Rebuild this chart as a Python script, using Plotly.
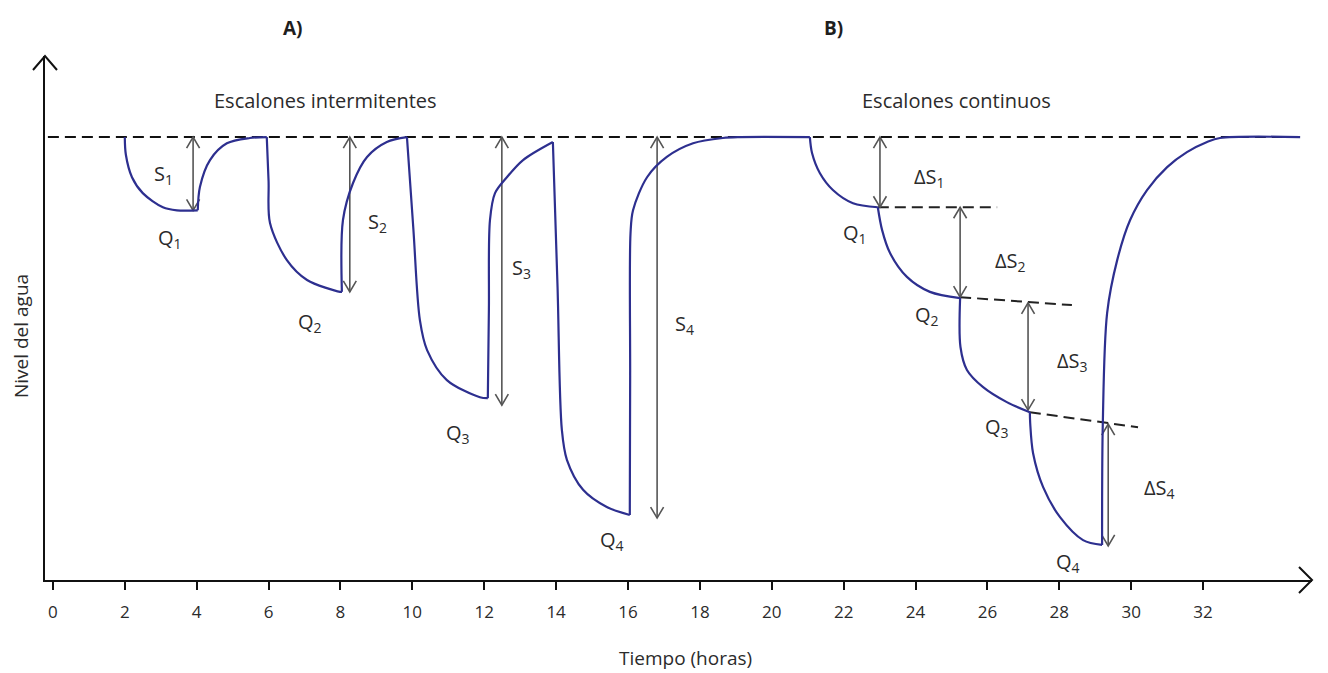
import plotly.graph_objects as go

# ---------------- data ----------------
tick_vals = list(range(0, 33, 2))
tick_text = [str(v) for v in tick_vals]

static_level = 10.0
static_t = [-0.14, 34.70]

# A) Escalones intermitentes : drawdown / recovery pieces (tiempo, nivel)
A1_draw_t = [2.00, 2.03, 2.20, 2.50, 3.06, 3.45, 4.03]
A1_draw_L = [10.0, 9.60, 9.09, 8.73, 8.41, 8.34, 8.34]
A1_rec_t = [4.03, 4.09, 4.37, 4.84, 5.48, 5.95]
A1_rec_L = [8.34, 8.87, 9.48, 9.86, 9.98, 10.0]
A2_draw_t = [5.95, 6.00, 6.04, 6.51, 7.07, 7.99, 8.04]
A2_draw_L = [10.0, 9.00, 8.05, 7.21, 6.76, 6.49, 6.49]
A2_rec_t = [8.04, 8.07, 8.35, 8.74, 9.29, 9.85]
A2_rec_L = [6.49, 8.12, 8.96, 9.55, 9.89, 10.0]
A3_draw_t = [9.85, 10.03, 10.21, 10.41, 10.96, 11.88, 12.10]
A3_draw_L = [10.0, 7.90, 5.85, 5.17, 4.49, 4.10, 4.08]
A3_rec_t = [12.10, 12.13, 12.16, 12.30, 12.63, 13.08, 13.91]
A3_rec_L = [4.08, 6.10, 8.12, 8.73, 9.09, 9.48, 9.89]
A4_draw_t = [13.91, 14.04, 14.16, 14.30, 14.75, 15.41, 16.05]
A4_draw_L = [9.89, 6.60, 3.36, 2.68, 2.00, 1.61, 1.43]
A4_rec_t = [16.05, 16.06, 16.07, 16.14, 16.53, 17.08, 17.81, 18.64, 19.12, 21.06]
A4_rec_L = [1.43, 4.60, 7.82, 8.34, 9.09, 9.55, 9.86, 9.98, 10.0, 10.0]

# B) Escalones continuos
B1_t = [21.06, 21.12, 21.34, 21.70, 22.26, 22.95]
B1_L = [10.0, 9.64, 9.18, 8.80, 8.50, 8.41]
B2_t = [22.95, 23.07, 23.29, 23.76, 24.40, 25.24]
B2_L = [8.41, 7.89, 7.37, 6.83, 6.49, 6.35]
B3_t = [25.24, 25.25, 25.43, 25.88, 26.54, 27.18]
B3_L = [6.35, 5.24, 4.72, 4.33, 3.99, 3.76]
B4_t = [27.18, 27.19, 27.27, 27.55, 28.02, 28.66, 29.19]
B4_L = [3.76, 3.51, 2.83, 2.06, 1.38, 0.86, 0.75]
B_rec_t = [29.19, 29.21, 29.33, 29.61, 29.97, 30.44, 31.00, 31.55, 32.11, 32.47, 34.70]
B_rec_L = [0.75, 3.51, 6.01, 7.21, 8.12, 8.80, 9.32, 9.66, 9.89, 9.98, 10.0]

# dashed step-extension lines in B (start/end)
ext_t0 = [22.95, 25.24, 27.18]
ext_t1 = [26.27, 28.35, 30.19]
ext_L0 = [8.41, 6.37, 3.76]
ext_L1 = [8.41, 6.19, 3.42]

# double-headed drawdown arrows
arrow_t = [3.90, 8.26, 12.49, 16.81, 23.01, 25.24, 27.13, 29.36]
arrow_top = [10.0, 10.0, 10.0, 10.0, 10.0, 8.41, 6.24, 3.49]
arrow_bot = [8.34, 6.49, 3.92, 1.36, 8.41, 6.37, 3.81, 0.73]

# text labels
label_text = ["S<sub>1</sub>", "Q<sub>1</sub>", "S<sub>2</sub>", "Q<sub>2</sub>",
              "S<sub>3</sub>", "Q<sub>3</sub>", "S<sub>4</sub>", "Q<sub>4</sub>",
              "ΔS<sub>1</sub>", "Q<sub>1</sub>", "ΔS<sub>2</sub>", "Q<sub>2</sub>",
              "ΔS<sub>3</sub>", "Q<sub>3</sub>", "ΔS<sub>4</sub>", "Q<sub>4</sub>"]
label_t = [3.09, 3.26, 9.04, 7.15, 13.05, 11.27, 17.58, 15.55,
           24.40, 22.32, 26.63, 24.32, 28.38, 26.27, 30.80, 28.24]
label_L = [9.16, 7.71, 8.07, 5.80, 7.03, 3.27, 5.74, 0.86,
           9.09, 7.82, 7.17, 5.96, 4.90, 3.42, 2.04, 0.36]

section_text = ["Escalones intermitentes", "Escalones continuos"]
section_t = [7.57, 25.13]
section_L = [10.84, 10.84]

# ---------------- layout geometry (screen pixels of the reference) ----------------
OFF = 8                      # default page body margin
SW, SH = 1328, 673
PL, PR, PT, PB = 45, 1312, 56, 580   # plot frame on screen
x_range = [-0.22, 35.03]
y_range = [-0.045, 11.84]
plot_w = PR - PL
plot_h = PB - PT
px_per_t = plot_w / (x_range[1] - x_range[0])
px_per_L = plot_h / (y_range[1] - y_range[0])


def paper_x(sx):
    return (sx - PL) / plot_w


def paper_y(sy):
    return (PB - sy) / plot_h


FONT = "Open Sans"
CURVE = "#2d2f8f"
ARROW = "#555555"
TXT = "#2b2b2b"

fig = go.Figure()

# static water level (dashed)
fig.add_trace(go.Scatter(x=static_t, y=[static_level] * 2, mode="lines",
                         line=dict(color="#111111", width=2, dash="11px,6px"),
                         hoverinfo="skip", showlegend=False))

# B dashed extensions
ex, ey = [], []
for a, b, c, d in zip(ext_t0, ext_t1, ext_L0, ext_L1):
    ex += [a, b, None]
    ey += [c, d, None]
fig.add_trace(go.Scatter(x=ex, y=ey, mode="lines",
                         line=dict(color="#222222", width=2, dash="11px,6px"),
                         hoverinfo="skip", showlegend=False))

# arrows: shafts + chevrons
dx = 6.5 / px_per_t
dy = 11 / px_per_L
sx, sy, hx, hy = [], [], [], []
for t, top, bot in zip(arrow_t, arrow_top, arrow_bot):
    sx += [t, t, None]
    sy += [top, bot, None]
    hx += [t - dx, t, t + dx, None, t - dx, t, t + dx, None]
    hy += [top - dy, top, top - dy, None, bot + dy, bot, bot + dy, None]
fig.add_trace(go.Scatter(x=sx, y=sy, mode="lines", line=dict(color=ARROW, width=1.6),
                         hoverinfo="skip", showlegend=False))
fig.add_trace(go.Scatter(x=hx, y=hy, mode="lines", line=dict(color=ARROW, width=1.6),
                         hoverinfo="skip", showlegend=False))

# water level curves
pieces = [(A1_draw_t, A1_draw_L), (A1_rec_t, A1_rec_L), (A2_draw_t, A2_draw_L),
          (A2_rec_t, A2_rec_L), (A3_draw_t, A3_draw_L), (A3_rec_t, A3_rec_L),
          (A4_draw_t, A4_draw_L), (A4_rec_t, A4_rec_L),
          (B1_t, B1_L), (B2_t, B2_L), (B3_t, B3_L), (B4_t, B4_L), (B_rec_t, B_rec_L)]
for pt, pl in pieces:
    fig.add_trace(go.Scatter(x=pt, y=pl, mode="lines",
                             line=dict(color=CURVE, width=2.2, shape="spline", smoothing=0.9),
                             hoverinfo="skip", showlegend=False))

annotations = []
for txt, t, L in zip(label_text, label_t, label_L):
    annotations.append(dict(x=t, y=L, xref="x", yref="y", text=txt, showarrow=False,
                            xanchor="center", yanchor="middle",
                            font=dict(family=FONT, size=20, color=TXT)))
for txt, t, L in zip(section_text, section_t, section_L):
    annotations.append(dict(x=t, y=L, xref="x", yref="y", text=txt, showarrow=False,
                            xanchor="center", yanchor="middle",
                            font=dict(family=FONT, size=20, color=TXT)))
annotations += [
    dict(x=paper_x(293), y=paper_y(28), xref="paper", yref="paper", text="<b>A)</b>",
         showarrow=False, xanchor="center", yanchor="middle",
         font=dict(family=FONT, size=19, color="#1e1e1e")),
    dict(x=paper_x(833), y=paper_y(28), xref="paper", yref="paper", text="<b>B)</b>",
         showarrow=False, xanchor="center", yanchor="middle",
         font=dict(family=FONT, size=19, color="#1e1e1e")),
    dict(x=paper_x(685), y=paper_y(658), xref="paper", yref="paper", text="Tiempo (horas)",
         showarrow=False, xanchor="center", yanchor="middle",
         font=dict(family=FONT, size=19, color=TXT)),
    dict(x=paper_x(21), y=paper_y(336), xref="paper", yref="paper", text="Nivel del agua",
         textangle=-90, showarrow=False, xanchor="center", yanchor="middle",
         font=dict(family=FONT, size=19, color=TXT)),
]

shapes = [
    dict(type="path", xref="paper", yref="paper", xsizemode="pixel", ysizemode="pixel",
         xanchor=1, yanchor=0, path="M -13,13 L 0,0 L -13,-13",
         line=dict(color="#111111", width=2)),
    dict(type="path", xref="paper", yref="paper", xsizemode="pixel", ysizemode="pixel",
         xanchor=0, yanchor=1, path="M -12,-14 L 0,0 L 12,-14",
         line=dict(color="#111111", width=2)),
]

fig.update_layout(
    width=SW - OFF, height=SH - OFF,
    margin=dict(l=PL - OFF, r=SW - PR, t=PT - OFF, b=SH - PB),
    plot_bgcolor="white", paper_bgcolor="white",
    font=dict(family=FONT, color=TXT),
    annotations=annotations, shapes=shapes,
    xaxis=dict(range=x_range, showgrid=False, zeroline=False, showline=True,
               linecolor="#111111", linewidth=2, ticks="outside", ticklen=8,
               tickwidth=2, tickcolor="#111111", tickvals=tick_vals, ticktext=tick_text,
               ticklabelstandoff=8,
               tickfont=dict(family=FONT, size=17, color=TXT)),
    yaxis=dict(range=y_range, showgrid=False, zeroline=False, showline=True,
               linecolor="#111111", linewidth=2, showticklabels=False, ticks=""),
)

fig.write_html("out.html")
